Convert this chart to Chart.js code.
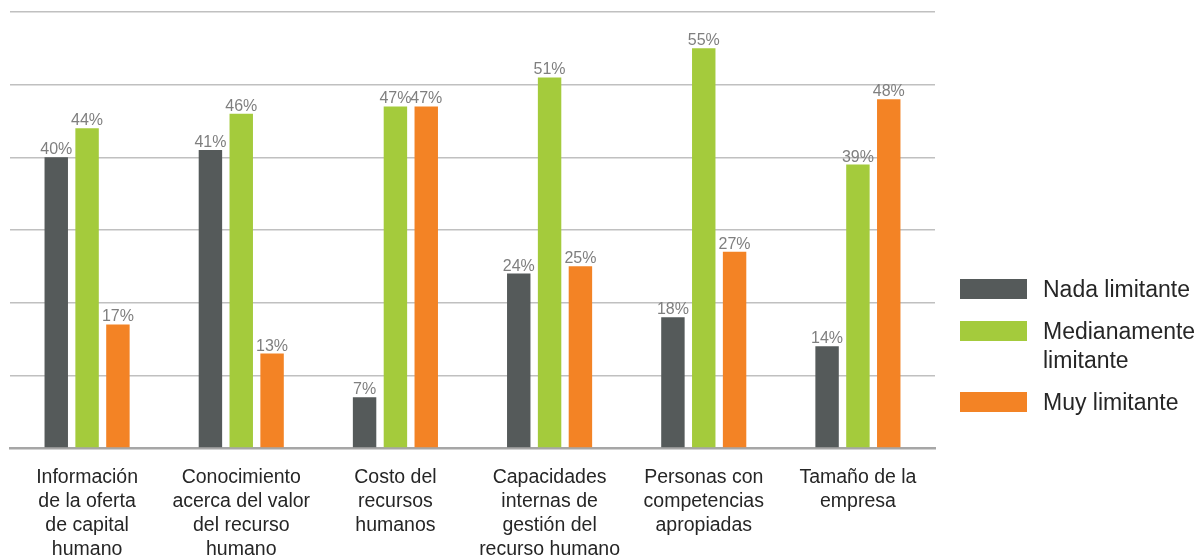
<!DOCTYPE html>
<html>
<head>
<meta charset="utf-8">
<script src="https://cdn.jsdelivr.net/npm/chart.js@4/dist/chart.umd.min.js"></script>
<style>
  html, body { margin: 0; padding: 0; background: #fff; }
  #wrap { width: 1201px; height: 559px; position: relative; }
</style>
</head>
<body>
<div id="wrap"><canvas id="myChart"></canvas></div>
<script>
const categories = [
    ['Información', 'de la oferta', 'de capital', 'humano'],
    ['Conocimiento', 'acerca del valor', 'del recurso', 'humano'],
    ['Costo del', 'recursos', 'humanos'],
    ['Capacidades', 'internas de', 'gestión del', 'recurso humano'],
    ['Personas con', 'competencias', 'apropiadas'],
    ['Tamaño de la', 'empresa']
];
const seriesNames = ['Nada limitante', 'Medianamente limitante', 'Muy limitante'];
const nadaLimitante = [40, 41, 7, 24, 18, 14];
const medianamenteLimitante = [44, 46, 47, 51, 55, 39];
const muyLimitante = [17, 13, 47, 25, 27, 48];
const yTicks = [0, 10, 20, 30, 40, 50, 60];

const colors = ['#555a5a', '#a4cb3c', '#f38325'];
const fontFamily = '"Liberation Sans", Arial, sans-serif';

// porcentaje encima de cada barra
const barLabels = {
    id: 'barLabels',
    afterDatasetsDraw(chart) {
        const ctx = chart.ctx;
        ctx.save();
        ctx.font = '16px ' + fontFamily;
        ctx.fillStyle = '#7f7f7f';
        ctx.textAlign = 'center';
        ctx.textBaseline = 'alphabetic';
        chart.data.datasets.forEach(function (ds, i) {
            chart.getDatasetMeta(i).data.forEach(function (bar, j) {
                ctx.fillText(ds.data[j] + '%', bar.x, bar.y - 3);
            });
        });
        ctx.restore();
    }
};

// leyenda a la derecha, con salto de línea si no cabe
const sideLegend = {
    id: 'sideLegend',
    afterDraw(chart) {
        const ctx = chart.ctx;
        const boxX = chart.chartArea.right + 25;
        const textX = boxX + 83;
        const maxW = chart.width - textX;
        const lineH = 29;
        let y = 279;
        ctx.save();
        ctx.font = '23px ' + fontFamily;
        ctx.textBaseline = 'alphabetic';
        chart.data.datasets.forEach(function (ds) {
            const lines = [];
            let cur = '';
            ds.label.split(' ').forEach(function (w) {
                const t = cur ? cur + ' ' + w : w;
                if (cur && ctx.measureText(t).width > maxW) {
                    lines.push(cur);
                    cur = w;
                } else {
                    cur = t;
                }
            });
            lines.push(cur);
            ctx.fillStyle = ds.backgroundColor;
            ctx.fillRect(boxX, y, 67, 20);
            ctx.fillStyle = '#262626';
            lines.forEach(function (l, k) {
                ctx.fillText(l, textX, y + 18 + k * lineH);
            });
            y += lines.length * lineH + 13;
        });
        ctx.restore();
    }
};

const ctx = document.getElementById('myChart').getContext('2d');
const myChart = new Chart(ctx, {
    type: 'bar',
    data: {
        labels: categories,
        datasets: [
            { label: seriesNames[0], data: nadaLimitante, backgroundColor: colors[0] },
            { label: seriesNames[1], data: medianamenteLimitante, backgroundColor: colors[1] },
            { label: seriesNames[2], data: muyLimitante, backgroundColor: colors[2] }
        ]
    },
    options: {
        responsive: true,
        maintainAspectRatio: false,
        animation: false,
        layout: { padding: { left: 10, right: 266, top: 12, bottom: 0 } },
        datasets: {
            bar: { categoryPercentage: 0.6, barPercentage: 0.76 }
        },
        plugins: {
            legend: { display: false },
            tooltip: { enabled: false }
        },
        scales: {
            x: {
                grid: { display: false, drawTicks: false },
                border: { display: true, color: '#a6a6a6', width: 2.5 },
                ticks: {
                    color: '#262626',
                    font: { family: fontFamily, size: 19.5, lineHeight: 24 / 19.5 },
                    padding: 18,
                    maxRotation: 0,
                    autoSkip: false
                },
                afterFit: function (s) { s.height = 111; }
            },
            y: {
                min: yTicks[0],
                max: yTicks[yTicks.length - 1],
                afterBuildTicks: function (s) {
                    s.ticks = yTicks.map(function (v) { return { value: v }; });
                },
                ticks: { display: false },
                grid: { color: '#c0c0c0', lineWidth: 1.5, drawTicks: false },
                border: { display: false },
                afterFit: function (s) { s.width = 0; }
            }
        }
    },
    plugins: [barLabels, sideLegend]
});
</script>
</body>
</html>
